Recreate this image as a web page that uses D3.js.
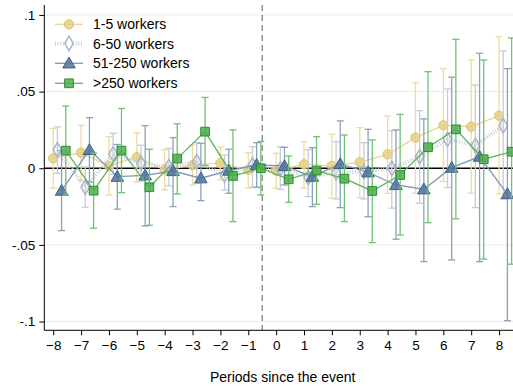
<!DOCTYPE html>
<html><head><meta charset="utf-8">
<script src="https://cdn.jsdelivr.net/npm/d3@7"></script>
<style>
html,body{margin:0;padding:0;background:#fff;}
svg{display:block;font-family:"Liberation Sans",Arial,sans-serif;}
</style></head>
<body>
<svg id="c" width="513" height="386"></svg>
<script>
const periods = [-8,-7,-6,-5,-4,-3,-2,-1,0,1,2,3,4,5,6,7,8];
const seriesNames = ["1-5 workers","6-50 workers","51-250 workers",">250 workers"];
const yTicks = [-0.1,-0.05,0,0.05,0.1];
const yTickLabels = ["-.1","-.05","0",".05",".1"];
const xTitle = "Periods since the event";

const est1 = [0.0065,0.0102,0.0015,0.0072,-0.001,0.0021,0.0033,-0.001,-0.0015,0.0026,0.0015,0.0039,0.0091,0.020,0.028,0.0271,0.0343];
const lo1  = [-0.013,-0.008,-0.0174,-0.0088,-0.014,-0.011,-0.0075,-0.013,-0.013,-0.013,-0.0196,-0.0192,-0.0163,-0.0163,-0.0087,-0.0163,-0.0168];
const hi1  = [0.026,0.028,0.0206,0.0232,0.012,0.0152,0.014,0.0102,0.0098,0.0174,0.0222,0.0265,0.0341,0.0558,0.065,0.0706,0.0858];

const est2 = [0.012,-0.0124,0.0093,0.0033,0.001,0.0043,-0.0044,0.0022,-0.0005,-0.0059,-0.0029,-0.0022,0.0,0.0076,0.0189,0.0148,0.0278];
const lo2  = [-0.0033,-0.0254,-0.004,-0.0084,-0.0115,-0.0098,-0.0142,-0.0124,-0.0137,-0.0185,-0.02,-0.02,-0.026,-0.0228,-0.0126,-0.0257,-0.02];
const hi2  = [0.027,0.0008,0.0228,0.015,0.013,0.0167,0.0087,0.014,0.014,0.012,0.0174,0.0167,0.0245,0.0376,0.0517,0.0543,0.0765];

const est3 = [-0.0146,0.012,-0.0055,-0.0046,-0.0018,-0.0065,-0.0015,0.0022,0.0015,-0.0055,0.0028,-0.0026,-0.0109,-0.0137,0.0004,0.0076,-0.0168];
const lo3  = [-0.0407,-0.009,-0.0267,-0.0376,-0.025,-0.0211,-0.0163,-0.0124,-0.0109,-0.025,-0.0257,-0.0316,-0.0463,-0.0609,-0.0598,-0.0609,-0.0994];
const hi3  = [0.0115,0.033,0.0155,0.0278,0.020,0.0163,0.0124,0.0167,0.0137,0.0134,0.0309,0.0254,0.025,0.0322,0.0594,0.075,0.065];

const est4 = [0.0115,-0.0146,0.0115,-0.0124,0.0063,0.0239,-0.005,0.0,-0.0072,-0.0015,-0.0068,-0.0148,-0.0044,0.0137,0.0254,0.0059,0.0108];
const lo4  = [-0.0176,-0.0391,-0.0159,-0.0372,-0.0168,0.0017,-0.0348,-0.0174,-0.0222,-0.0235,-0.0348,-0.0485,-0.0435,-0.0355,-0.033,-0.0592,-0.0626];
const hi4  = [0.0406,0.0099,0.039,0.0124,0.029,0.0462,0.025,0.0174,0.008,0.0206,0.0217,0.0185,0.0352,0.063,0.0841,0.0706,0.085];

const offsets = [0, 0.15, 0.3, 0.45];

const styles = [
  {line:"#e9d593", bar:"#eedc9f", fill:"#e6cf83", stroke:"#dcc272", shape:"circle", dash:null, lw:1.3},
  {line:"#c8d0db", bar:"#c3cdda", fill:"none", stroke:"#aab6c6", shape:"diamond", dash:"1 1.6", lw:4},
  {line:"#7d97b3", bar:"#8aa1ba", fill:"#4f7399", stroke:"#3d628a", shape:"triangle", dash:null, lw:1.3},
  {line:"#5fb45f", bar:"#72c072", fill:"#4caf4c", stroke:"#2e8c2e", shape:"square", dash:null, lw:1.3}
];

const allEst=[est1,est2,est3,est4], allLo=[lo1,lo2,lo3,lo4], allHi=[hi1,hi2,hi3,hi4];

const svg = d3.select("#c");
const L=44.3, R=513, T=5, B=330.3;
const x = d3.scaleLinear().domain([-8.32,8.5]).range([L,R]);
const y = d3.scaleLinear().domain([-0.1057,0.1065]).range([B,T]);

// gridlines
svg.append("g").selectAll("line").data(yTicks.filter(d=>d!==0)).join("line")
  .attr("x1",L).attr("x2",R).attr("y1",d=>y(d)).attr("y2",d=>y(d))
  .attr("stroke","#ebebeb").attr("stroke-width",1);

// zero line
svg.append("line").attr("x1",L).attr("x2",R).attr("y1",y(0)).attr("y2",y(0))
  .attr("stroke","#000").attr("stroke-width",1.4);

// event dashed line
svg.append("line").attr("x1",x(-0.5)).attr("x2",x(-0.5)).attr("y1",T).attr("y2",B)
  .attr("stroke","#808080").attr("stroke-width",1.3).attr("stroke-dasharray","6,4");

function markerPath(shape){
  const s = {circle:d3.symbolCircle, diamond:d3.symbolDiamond, triangle:d3.symbolTriangle, square:d3.symbolSquare}[shape];
  const size = {circle:68, diamond:62, triangle:68, square:76}[shape];
  return d3.symbol().type(s).size(size)();
}

const plot = svg.append("g");
for (let k=0;k<4;k++){
  const st = styles[k];
  const data = periods.map((p,i)=>({p:p+offsets[k], e:allEst[k][i], lo:allLo[k][i], hi:allHi[k][i]}));
  const g = plot.append("g");
  g.selectAll("line.bar").data(data).join("line").attr("class","bar")
    .attr("x1",d=>x(d.p)).attr("x2",d=>x(d.p)).attr("y1",d=>y(d.lo)).attr("y2",d=>y(d.hi))
    .attr("stroke",st.bar).attr("stroke-width",1.3);
  ["lo","hi"].forEach(key=>{
    g.selectAll("line.cap"+key).data(data).join("line").attr("class","cap"+key)
      .attr("x1",d=>x(d.p)-3.5).attr("x2",d=>x(d.p)+3.5).attr("y1",d=>y(d[key])).attr("y2",d=>y(d[key]))
      .attr("stroke",st.bar).attr("stroke-width",1.3);
  });
  const ln = d3.line().x(d=>x(d.p)).y(d=>y(d.e));
  const path = g.append("path").datum(data).attr("d",ln).attr("fill","none")
    .attr("stroke",st.line).attr("stroke-width",st.lw);
  if (st.dash) path.attr("stroke-dasharray",st.dash);
  g.selectAll("path.m").data(data).join("path").attr("class","m")
    .attr("d",markerPath(st.shape))
    .attr("transform",d=>`translate(${x(d.p)},${y(d.e)+(st.shape==="triangle"?1:0)})`)
    .attr("fill",st.fill).attr("fill-opacity",st.fill==="none"?0:0.85)
    .attr("stroke",st.stroke).attr("stroke-width",st.shape==="diamond"?1.5:1);
}

// axes
svg.append("line").attr("x1",L).attr("x2",L).attr("y1",T).attr("y2",B).attr("stroke","#000").attr("stroke-width",1);
svg.append("line").attr("x1",L).attr("x2",R).attr("y1",B).attr("y2",B).attr("stroke","#000").attr("stroke-width",1);

const xa = svg.append("g").attr("transform",`translate(0,${B})`)
  .call(d3.axisBottom(x).tickValues(periods).tickSize(5).tickPadding(5).tickFormat(d3.format("d")));
xa.select(".domain").remove();
xa.selectAll("text").attr("font-size",13.5).attr("fill","#000").attr("font-family","Liberation Sans, Arial, sans-serif");
xa.selectAll("line").attr("stroke","#000");

const ya = svg.append("g").attr("transform",`translate(${L},0)`)
  .call(d3.axisLeft(y).tickValues(yTicks).tickSize(5).tickPadding(4).tickFormat((d,i)=>yTickLabels[i]));
ya.select(".domain").remove();
ya.selectAll("text").attr("font-size",13.5).attr("fill","#000").attr("font-family","Liberation Sans, Arial, sans-serif");
ya.selectAll("line").attr("stroke","#000");

svg.append("text").attr("x",(L+R)/2+4).attr("y",381.5).attr("text-anchor","middle")
  .attr("font-size",14).attr("fill","#000").text(xTitle);

// legend
const leg = svg.append("g");
const legY = [24.3,43.5,63.3,83.3];
seriesNames.forEach((name,k)=>{
  const st = styles[k];
  const row = leg.append("g").attr("transform",`translate(0,${legY[k]})`);
  const l = row.append("line").attr("x1",55).attr("x2",83).attr("y1",0).attr("y2",0)
    .attr("stroke",st.line).attr("stroke-width",st.lw);
  if (st.dash) l.attr("stroke-dasharray",st.dash);
  row.append("path").attr("d",markerPath(st.shape))
    .attr("transform",`translate(69,${st.shape==="triangle"?1:0})`)
    .attr("fill",st.fill==="none"?"#fff":st.fill).attr("fill-opacity",st.fill==="none"?1:0.85)
    .attr("stroke",st.stroke).attr("stroke-width",st.shape==="diamond"?1.5:1);
  row.append("text").attr("x",93).attr("y",5).attr("font-size",14).attr("fill","#000").text(name);
});
</script>
</body></html>
